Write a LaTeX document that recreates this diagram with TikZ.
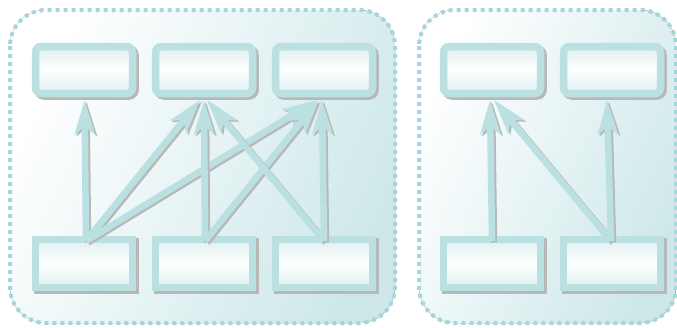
\documentclass[tikz,border=0pt]{standalone}
\usetikzlibrary{arrows.meta,calc,shadows}
\definecolor{bordc}{RGB}{187,224,225}
\definecolor{shadc}{RGB}{184,184,184}
\definecolor{dotc}{RGB}{166,214,219}
\definecolor{panc}{RGB}{206,232,234}
\definecolor{innc}{RGB}{222,239,240}
\newcommand\linkar[4]{%
  \draw[connsh] ($(#1.north)+(#2,1.5)$) -- ($(#3.south)+(#4,6.5)$);
  \draw[conn] ($(#1.north)+(#2,1.5)$) -- ($(#3.south)+(#4,6.5)$);}
\begin{document}
\begin{tikzpicture}[x=1pt,y=-1pt,
  panelfill/.style={left color=white, right color=panc, shading angle=65},
  panelline/.style={draw=dotc, line width=4pt, dash pattern=on 4pt off 4pt},
  box/.style={draw=bordc, line width=7.5pt, minimum width=97pt, inner sep=0pt, outer sep=0pt,
    top color=innc, bottom color=innc, middle color=white,
    drop shadow={shadow xshift=2.5pt, shadow yshift=-2.5pt, opacity=1, fill=shadc, draw=shadc, line width=7.5pt}},
  topbox/.style={box, rounded corners=6pt, minimum height=47pt},
  botbox/.style={box, minimum height=48pt},
  conn/.style={draw=bordc, line width=6.5pt, -{Stealth[length=34pt,width=20pt,inset=8pt]}},
  connsh/.style={conn, draw=shadc, transform canvas={xshift=2pt,yshift=-1.5pt}}
]
\useasboundingbox (0,0) rectangle (677,327);
% panels
\fill[panelfill, rounded corners=36pt] (10,10) rectangle (395,323);
\draw[panelline, rounded corners=36pt] (10,10) rectangle (395,323);
\fill[panelfill, rounded corners=36pt] (419,10) rectangle (676,323);
\draw[panelline, rounded corners=36pt] (419,10) rectangle (676,323);
% boxes
\node[topbox] (t1) at (84,70) {};
\node[topbox] (t2) at (204,70) {};
\node[topbox] (t3) at (324,70) {};
\node[botbox] (b1) at (84,263.5) {};
\node[botbox] (b2) at (204,263.5) {};
\node[botbox] (b3) at (324,263.5) {};
\node[topbox] (rt1) at (492,70) {};
\node[topbox] (rt2) at (612,70) {};
\node[botbox] (rb1) at (492,263.5) {};
\node[botbox] (rb2) at (612,263.5) {};
% connectors
\linkar{b1}{2}{t1}{0.5}
\linkar{b1}{2}{t2}{-4}
\linkar{b1}{2}{t3}{-7}
\linkar{b2}{1}{t2}{0}
\linkar{b2}{1}{t3}{-5}
\linkar{b3}{0}{t2}{3}
\linkar{b3}{0}{t3}{-2}
\linkar{rb1}{0}{rt1}{-2}
\linkar{rb2}{-1}{rt1}{2}
\linkar{rb2}{-1}{rt2}{-5}
\end{tikzpicture}
\end{document}
